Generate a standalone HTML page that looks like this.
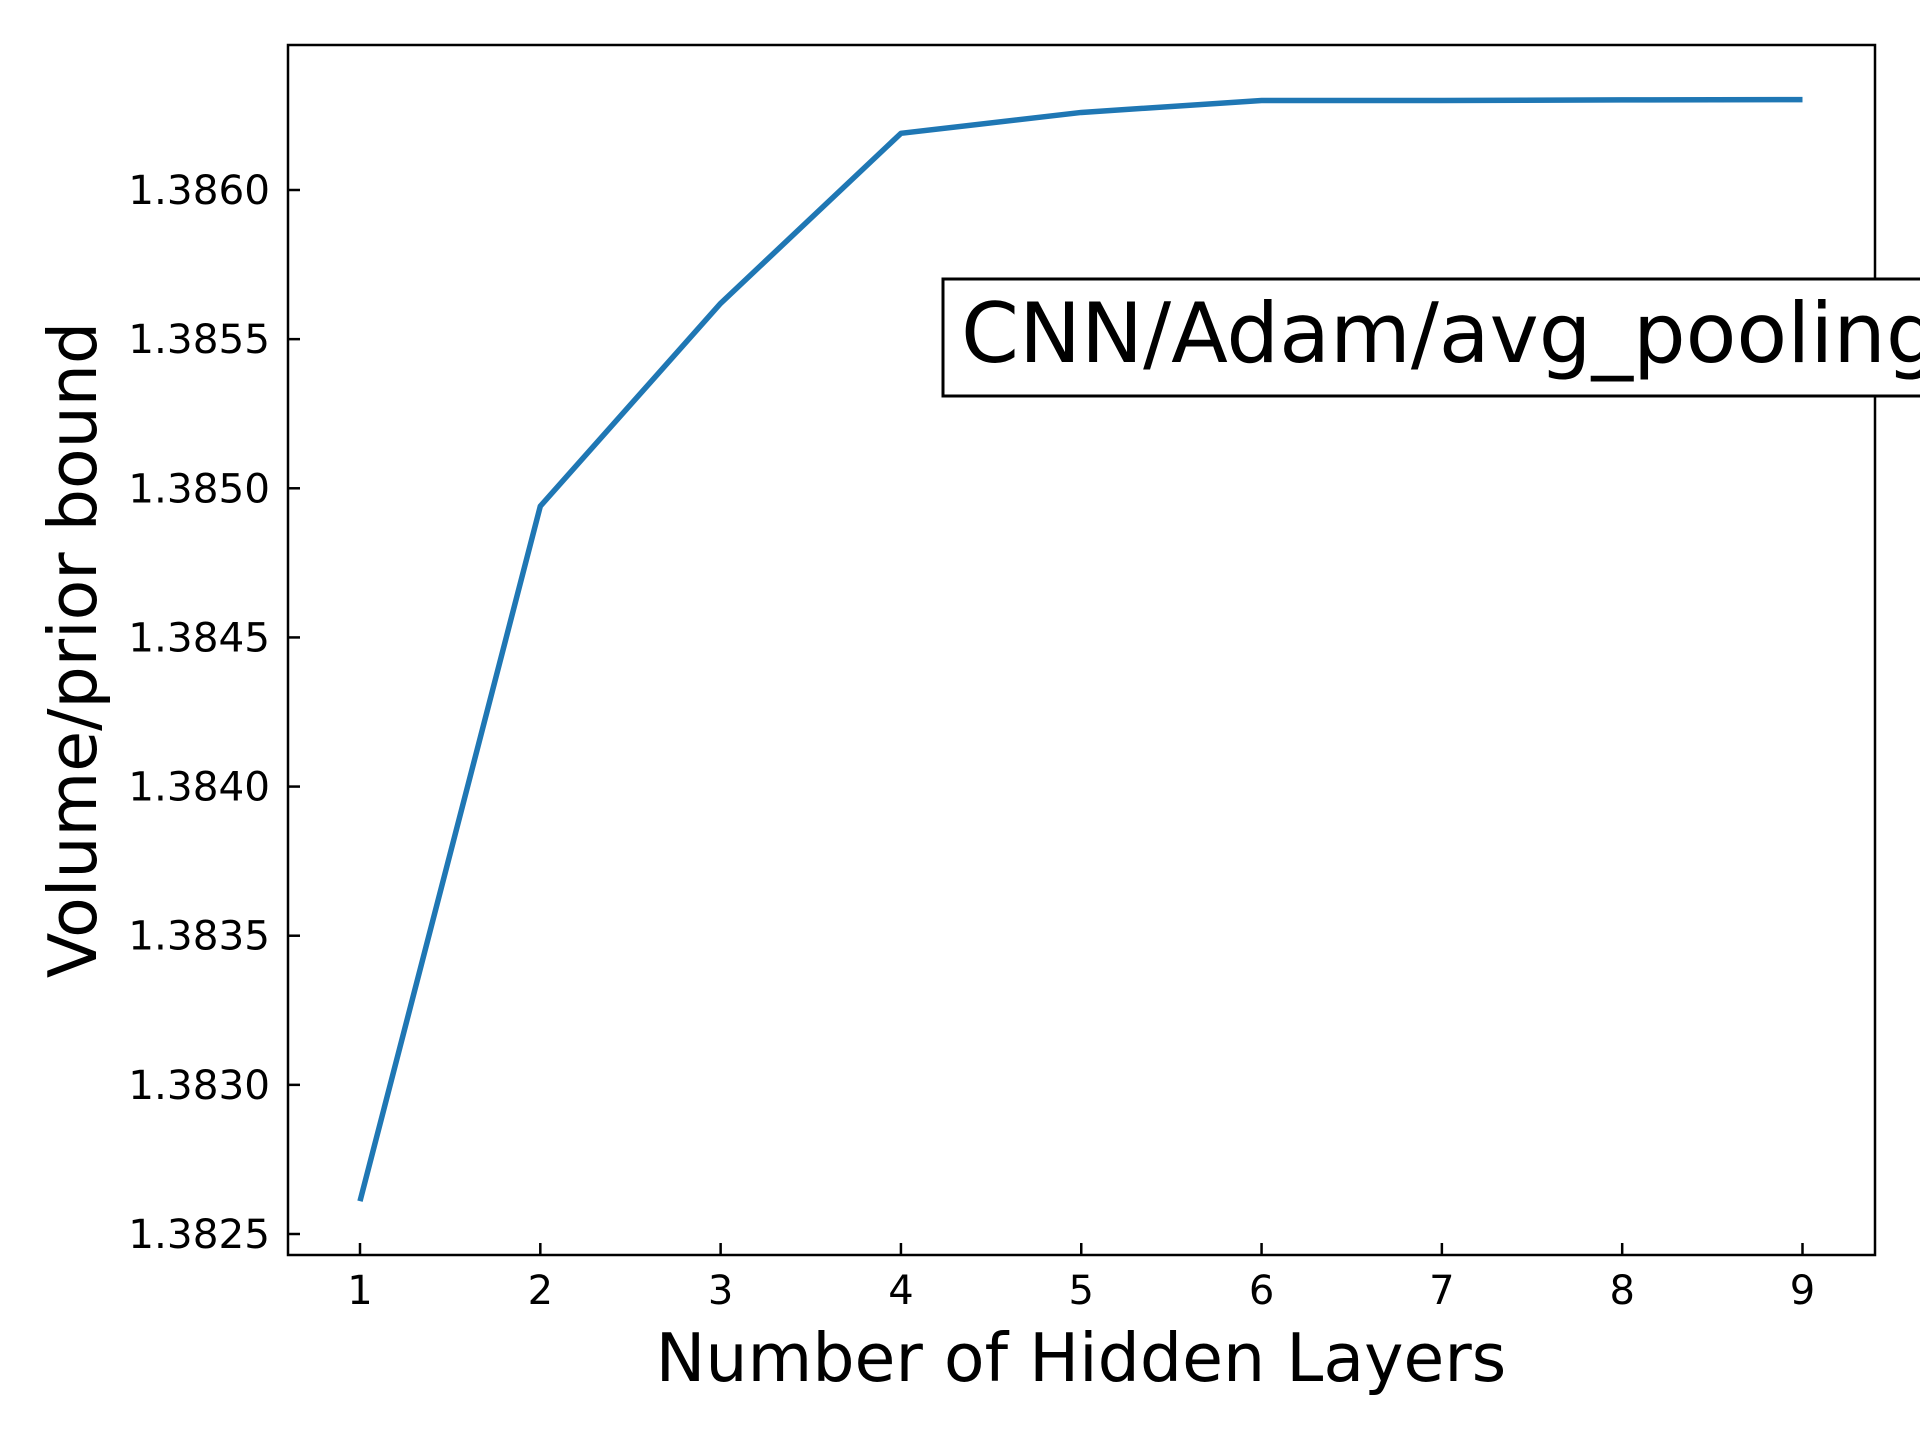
<!DOCTYPE html>
<html><head><meta charset="utf-8"><style>
html,body{margin:0;padding:0;background:#fff;}
svg{display:block;font-family:"DejaVu Sans","Liberation Sans",sans-serif;}
</style></head><body>
<svg id="chart" width="1920" height="1440" viewBox="0 0 1920 1440">
<rect x="0" y="0" width="1920" height="1440" fill="#fff"/>
<g id="ticks"></g>
<polyline id="series" fill="none" stroke="#1f77b4" stroke-width="5.5" stroke-linejoin="round"/>
<rect x="288" y="45" width="1587" height="1210" fill="none" stroke="#000" stroke-width="2.5"/>
<rect x="943" y="279" width="1000" height="117" fill="#fff" stroke="#000" stroke-width="3"/>
<text x="961" y="362" font-size="83" fill="#000">CNN/Adam/avg_pooling</text>
<text x="1081" y="1381" font-size="66.5" text-anchor="middle">Number of Hidden Layers</text>
<text transform="translate(96,650) rotate(-90)" font-size="66.5" text-anchor="middle">Volume/prior bound</text>
</svg>
<script>
const categories=[1,2,3,4,5,6,7,8,9];
const values=[1.38261,1.38494,1.38562,1.38619,1.38626,1.38630,1.38630,1.386302,1.386303];
const yTicks=[1.3825,1.3830,1.3835,1.3840,1.3845,1.3850,1.3855,1.3860];
const yTickLabels=["1.3825","1.3830","1.3835","1.3840","1.3845","1.3850","1.3855","1.3860"];
function xs(v){return 360+(v-1)*(1802.5-360)/8;}
function ys(v){return 1234-(v-1.3825)*(1234-190)/0.0035;}
const NS="http://www.w3.org/2000/svg";
const g=document.getElementById('ticks');
function mk(tag,attrs){const e=document.createElementNS(NS,tag);for(const k in attrs)e.setAttribute(k,attrs[k]);g.appendChild(e);return e;}
categories.forEach(c=>{
  const x=xs(c);
  const t=mk('line',{x1:x,x2:x,y1:1255,y2:1243,stroke:'#000','stroke-width':2.5});
  
  
  const l=mk('text',{x:x,y:1304,'font-size':40,'text-anchor':'middle'});
  l.textContent=String(c);
  
  
});
yTicks.forEach((v,i)=>{
  const y=ys(v);
  const t=mk('line',{x1:288,x2:300,y1:y,y2:y,stroke:'#000','stroke-width':2.5});
  
  
  const l=mk('text',{x:270,y:y+14,'font-size':40.5,'text-anchor':'end'});
  l.textContent=yTickLabels[i];
  
  
});
document.getElementById('series').setAttribute('points',categories.map((c,i)=>xs(c)+','+ys(values[i])).join(' '));
</script>
</body></html>
